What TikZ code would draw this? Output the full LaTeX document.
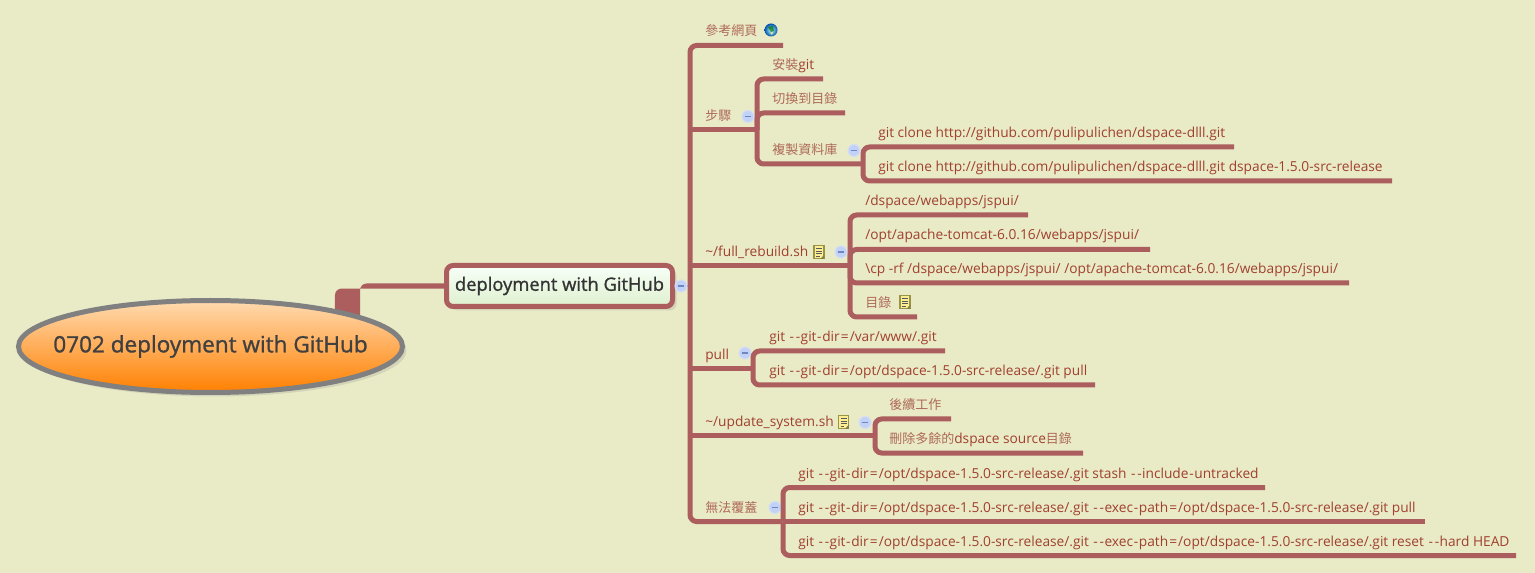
\documentclass[tikz,border=0pt]{standalone}
\usepackage{fontspec}
\setmainfont{Open Sans}
\newfontfamily\zh[Scale=0.947,Color=AE6A5A]{Noto Sans CJK TC}
\newfontfamily\topicfont[FakeBold=1.2]{Open Sans}
\usetikzlibrary{shadows,calc}
\definecolor{paper}{HTML}{E9EAC6}
\definecolor{branchcol}{HTML}{AC5E5E}
\definecolor{leafcol}{HTML}{A0402F}
\definecolor{rootline}{HTML}{808080}
\definecolor{toggleline}{HTML}{D5DFF5}
\definecolor{togglefill}{HTML}{C2D2F6}
\definecolor{toggleminus}{HTML}{6F86C0}
\newcommand\dd{\kern.7pt-\kern1.4pt-\kern.3pt}
\newcommand\hy{\kern.5pt-\kern.5pt}
\newcommand\eqs{\kern.8pt=\kern.8pt}
\tikzset{
  branch/.style={draw=branchcol, line width=3.75pt, rounded corners=5pt},
  leaf/.style={anchor=base west, inner sep=0pt, text=leafcol, font=\fontsize{10.3}{12}\selectfont},
  toggle/.style={circle, draw=toggleline, fill=togglefill, line width=0.8pt, minimum size=9pt, inner sep=0pt,
    path picture={\draw[toggleminus, line width=0.9pt] ($(path picture bounding box.center)+(-2.4pt,0)$) -- ($(path picture bounding box.center)+(2.4pt,0)$);}},
  noteicon/.pic={
    \fill[yellow!35!white!90!orange] (-5,-6.5) rectangle (5,6.5);
    \draw[yellow!55!black, line width=0.9pt] (-5,-6.5) rectangle (5,6.5);
    \foreach \y in {-3.5,-1,1.5} \draw[black!65, line width=0.5pt] (-3,\y) -- (3,\y);
    \draw[black!65, line width=0.5pt] (-3,4) -- (0.5,4);
    \fill[yellow!45!black] (5.4,2.5) -- (1.5,6.9) -- (5.4,6.9) -- cycle;
  },
  globeicon/.pic={
    \shade[inner color=cyan!25!white, outer color=blue!35!teal] (0,0) circle (6.5);
    \fill[green!45!black, opacity=0.7] (-3,-3) -- (2,-4) -- (3,1) -- (0,2) -- cycle;
    \fill[yellow!50!white, opacity=0.8] (-1,3) -- (2,2) -- (1,5) -- cycle;
  }
}
\begin{document}
\begin{tikzpicture}[x=0.75pt,y=-0.75pt]
\useasboundingbox (0,0) rectangle (1535,573);
\fill[paper] (0,0) rectangle (1535,573);

% Stem from the root to the main topic
\coordinate (rootstem) at (347.5,325);
\coordinate (mainleft) at (455,286);
\fill[branchcol, rounded corners=5pt] ($(rootstem)+(-9.4pt,0)$) |- ($(mainleft)+(0,-1.9pt)$) -- ($(mainleft)+(0,1.9pt)$) -| ($(rootstem)+(9.4pt,0)$) -- cycle;

% Main topic
\node[draw=branchcol, line width=3.75pt, rounded corners=5pt, top color=green!3!white, bottom color={rgb,255:red,222;green,240;blue,207},
  drop shadow={opacity=0.2, shadow xshift=3pt, shadow yshift=-3pt},
  minimum width=169.5pt, minimum height=30.75pt, inner sep=0pt, text=black!80,
  font=\topicfont\fontsize{13.75}{16}\selectfont] (main) at (559.5,286) {deployment with GitHub};

% Root
\coordinate (rootcentre) at (210.5,346.5);
\draw[draw=rootline, line width=3.75pt, top color={rgb,255:red,255;green,218;blue,176}, bottom color={rgb,255:red,255;green,128;blue,0},
  drop shadow={opacity=0.2, shadow xshift=3pt, shadow yshift=-3pt}] (rootcentre) ellipse [x radius=144pt, y radius=34.5pt];
\node[inner sep=0pt, text=black!75, font=\topicfont\fontsize{16.9}{20}\selectfont] (root) at (210.5,346.5) {0702 deployment with GitHub};

% Spine of the first level
\coordinate (spine) at (690,286);
\coordinate (reftop) at (783,45.5);
\coordinate (nonebot) at (782,521.5);
\draw[branch] (reftop) -| (spine) |- (nonebot);
\draw[branchcol, line width=2pt] (main.east) -- (spine);
\node[toggle] (maintoggle) at (681,286) {};

% First level
\node[leaf] (ref) at (705,36) {\zh 參考網頁};
\pic (refglobe) at (771,30) {globeicon};

\node[leaf] (steps) at (705,120.5) {\zh 步驟};
\coordinate (stepsend) at (757,130);
\draw[branch] (690,130) -- (stepsend);
\node[toggle] (stepstoggle) at (748,116.5) {};

\node[leaf] (full) at (705,256.5) {\textasciitilde/full\_rebuild.sh};
\pic (fullnote) at (819,252) {noteicon};
\coordinate (fullend) at (850,266);
\draw[branch] (690,266) -- (fullend);
\node[toggle] (fulltoggle) at (841,252) {};

\node[leaf] (pull) at (705,359.5) {pull};
\coordinate (pullend) at (753,369);
\draw[branch] (690,369) -- (pullend);
\node[toggle] (pulltoggle) at (745,353) {};

\node[leaf] (update) at (705,426.5) {\textasciitilde/update\_system.sh};
\pic (updatenote) at (843.5,422) {noteicon};
\coordinate (updateend) at (875,436);
\draw[branch] (690,436) -- (updateend);
\node[toggle] (updatetoggle) at (865,422.5) {};

\node[leaf] (none) at (705,512) {\zh 無法覆蓋};
\node[toggle] (nonetoggle) at (775,507.5) {};

% Steps
\node[leaf] (install) at (772,69.5) {{\zh 安裝}git};
\node[leaf] (chdir) at (772,103.5) {\zh 切換到目錄};
\node[leaf] (clone) at (772,154.5) {\zh 複製資料庫};
\draw[branch] (stepsend) |- (823,79);
\draw[branch] (stepsend) |- (845,113);
\draw[branch] (stepsend) |- (864,164);

% Clone commands
\coordinate (clonehub) at (863,164);
\node[leaf] (clonea) at (878,137.5) {git clone http://github.com/pulipulichen/dspace-dlll.git};
\node[leaf] (cloneb) at (878,171.5) {git clone http://github.com/pulipulichen/dspace-dlll.git dspace-1.5.0-src-release};
\draw[branch] (clonehub) |- (1234,147);
\draw[branch] (clonehub) |- (1392,181);
\node[toggle] (clonetoggle) at (854,150.5) {};

% Rebuild
\node[leaf] (fulla) at (865,205.5) {/dspace/webapps/jspui/};
\node[leaf] (fullb) at (865,240) {/opt/apache-tomcat-6.0.16/webapps/jspui/};
\node[leaf] (fullc) at (865,273.5) {\textbackslash cp -rf /dspace/webapps/jspui/ /opt/apache-tomcat-6.0.16/webapps/jspui/};
\node[leaf] (fulld) at (865,307.5) {\zh 目錄};
\pic (fulldnote) at (905,302) {noteicon};
\draw[branch] (fullend) |- (1028,215);
\draw[branch] (fullend) |- (1150,249.5);
\draw[branch] (fullend) |- (1349,283);
\draw[branch] (fullend) |- (917,317);

% Pull
\node[leaf] (pulla) at (769,341.5) {git \dd git\hy dir\eqs/var/www/.git};
\node[leaf] (pullb) at (769,375.5) {git \dd git\hy dir\eqs/opt/dspace-1.5.0-src-release/.git pull};
\draw[branch] (pullend) |- (945,351);
\draw[branch] (pullend) |- (1095,385);

% Update
\node[leaf] (updatea) at (889,409.5) {\zh 後續工作};
\node[leaf] (updateb) at (889,443.5) {{\zh 刪除多餘的}dspace source{\zh 目錄}};
\draw[branch] (updateend) |- (951,419);
\draw[branch] (updateend) |- (1083,453);

% Overwrite
\coordinate (nonehub) at (783,521.5);
\node[leaf] (nonea) at (798,478) {git \dd git\hy dir\eqs/opt/dspace-1.5.0-src-release/.git stash \dd include\hy untracked};
\node[leaf] (noneb) at (798,512) {git \dd git\hy dir\eqs/opt/dspace-1.5.0-src-release/.git \dd exec\hy path\eqs/opt/dspace-1.5.0-src-release/.git pull};
\node[leaf] (nonec) at (798,546) {git \dd git\hy dir\eqs/opt/dspace-1.5.0-src-release/.git \dd exec\hy path\eqs/opt/dspace-1.5.0-src-release/.git reset \dd hard HEAD};
\draw[branch] (nonehub) |- (1265,487.5);
\draw[branch] (nonehub) -- (1425,521.5);
\draw[branch] (nonehub) |- (1516,555.5);

\end{tikzpicture}
\end{document}
